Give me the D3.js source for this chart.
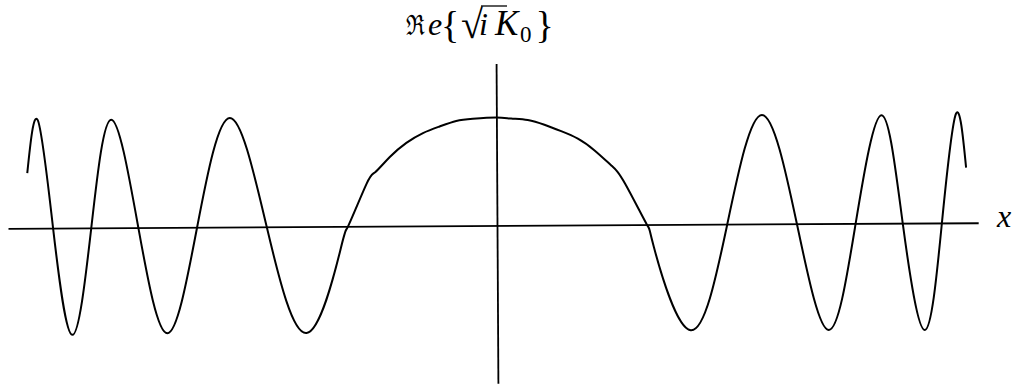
<!DOCTYPE html>
<html>
<head>
<meta charset="utf-8">
<script src="https://cdn.jsdelivr.net/npm/d3@7"></script>
<style>
  html, body { margin: 0; padding: 0; background: #fff; }
  svg { display: block; }
</style>
</head>
<body>
<div id="chart"></div>
<script>
// curve: x position and Re{sqrt(i) K0} value
const xs = [-4.79, -4.68, -4.53, -4.34, -4.14, -3.93, -3.66, -3.37, -3.06, -2.72, -2.35, -1.95,
            -1.60, -1.52, -1.33, -1.24, -1.09, -0.92, -0.75, -0.58, -0.41, -0.24, 0,
            0.15, 0.32, 0.49, 0.66, 0.83, 1.0, 1.17, 1.31, 1.53, 1.60,
            1.97, 2.35, 2.71, 3.06, 3.38, 3.66, 3.93, 4.14, 4.36, 4.54, 4.69, 4.79];
const ys = [0.51, 1.0, 0, -0.99, 0, 1.0, 0, -0.98, 0, 1.01, 0, -0.985,
            -0.22, 0, 0.39, 0.50, 0.64, 0.77, 0.86, 0.92, 0.97, 0.99, 1.0,
            0.99, 0.975, 0.93, 0.87, 0.80, 0.69, 0.55, 0.38, 0, -0.21,
            -0.98, 0, 1.01, 0, -0.985, 0, 1.0, 0, -0.99, 0, 1.01, 0.51];
const xAxisExtent = [-4.99, 4.91];
const yAxisExtent = [-1.46, 1.5];
const xLabel = "x";

const width = 1015, height = 387;
const serif = "Liberation Serif";

const svg = d3.select("#chart")
    .append("svg")
    .attr("width", width)
    .attr("height", height);

// scales: 98px per x unit, 108px per y unit, origin at (497, 225.5)
const x = d3.scaleLinear().domain([-5, 5]).range([7, 987]);
const y = d3.scaleLinear().domain([-1, 1]).range([333.5, 117.5]);

// the scanned original is tilted a little
const plot = svg.append("g")
    .attr("transform", `rotate(-0.33, ${x(0)}, ${y(0)})`);

// x axis, no ticks
const xAxisScale = x.copy().domain(xAxisExtent).range(xAxisExtent.map(x));
plot.append("g")
    .attr("transform", `translate(0, ${y(0)})`)
    .call(d3.axisBottom(xAxisScale).tickValues([]).tickSizeOuter(0))
    .select(".domain")
    .attr("stroke", "#000")
    .attr("stroke-width", 1.8);

// y axis, no ticks
const yAxisScale = y.copy().domain(yAxisExtent).range(yAxisExtent.map(y));
plot.append("g")
    .attr("transform", `translate(${x(0)}, 0)`)
    .call(d3.axisLeft(yAxisScale).tickValues([]).tickSizeOuter(0))
    .select(".domain")
    .attr("stroke", "#000")
    .attr("stroke-width", 1.8);

const line = d3.line()
    .x((d, i) => x(xs[i]))
    .y(d => y(d))
    .curve(d3.curveNatural);

plot.append("path")
    .datum(ys)
    .attr("d", line)
    .attr("fill", "none")
    .attr("stroke", "#000")
    .attr("stroke-width", 2);

// x label
svg.append("text")
    .attr("x", 997)
    .attr("y", 227)
    .style("font-family", serif)
    .style("font-size", "32px")
    .style("font-style", "italic")
    .text(xLabel);

// title  Re{ sqrt(i) K_0 }, one piece at a time
const title = svg.append("g").style("font-family", serif);
function piece(txt, px, py, size, italic, len, family) {
    const t = title.append("text")
        .attr("x", px)
        .attr("y", py)
        .style("font-size", size + "px")
        .style("font-style", italic ? "italic" : "normal")
        .style("font-family", family || null)
        .text(txt);
    if (len) t.attr("textLength", len).attr("lengthAdjust", "spacingAndGlyphs");
    return t;
}
piece("ℜ", 406, 35, 28, false, 19, "DejaVu Serif");
piece("e", 428, 35, 32, true);
piece("{", 441, 38, 38, false);
const root = piece("√", 461, 38, 40, false);
piece("i", 479, 35, 32, true);
const kGlyph = piece("K", 495, 35, 35, true);
const kb = kGlyph.node().getBBox();
const zero = piece("0", kb.x + kb.width, 42, 23, false);
const zb = zero.node().getBBox();
piece("}", zb.x + zb.width + 4, 38, 38, false);

// vinculum over the i of the square root
const rb = root.node().getBBox();
svg.append("line")
    .attr("x1", rb.x + rb.width - 2)
    .attr("x2", 507)
    .attr("y1", 6)
    .attr("y2", 6)
    .attr("stroke", "#000")
    .attr("stroke-width", 1.3);
</script>
</body>
</html>
